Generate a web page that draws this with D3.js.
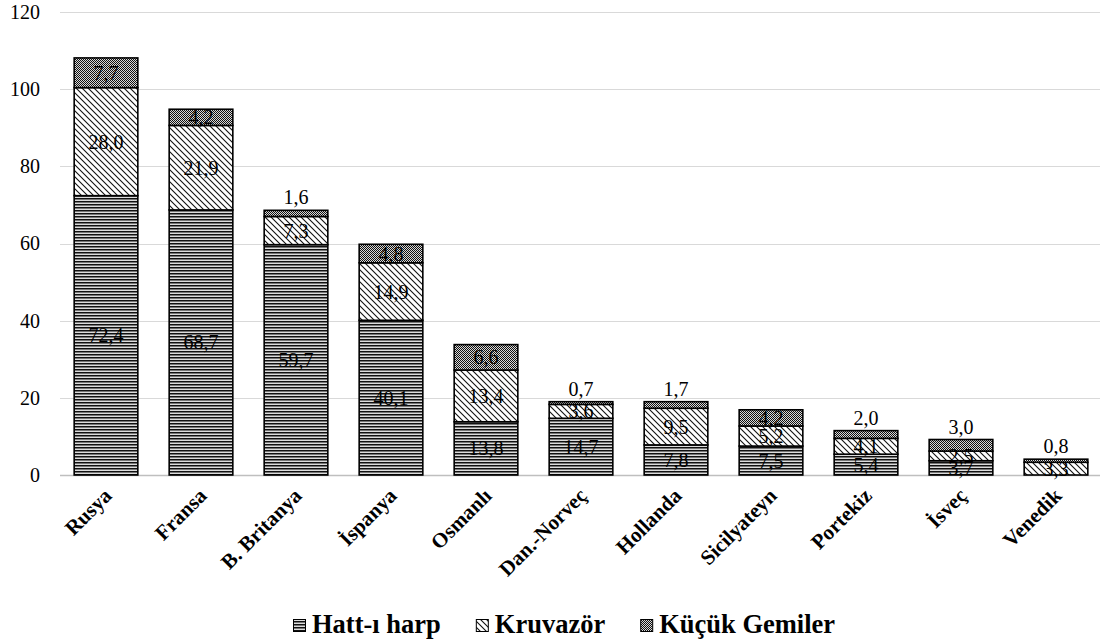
<!DOCTYPE html>
<html>
<head>
<meta charset="utf-8">
<script src="https://cdn.jsdelivr.net/npm/d3@7/dist/d3.min.js"></script>
<style>
  html, body { margin: 0; padding: 0; background: #fff; }
  svg { display: block; }
  svg text { font-family: 'Liberation Serif', 'DejaVu Serif', serif !important; fill: #000; }
</style>
</head>
<body>
<svg id="chart" width="1100" height="643" font-family="Liberation Serif"></svg>
<script>
// Fleet tonnage by country (thousand tons), split by ship class
const categories = ["Rusya", "Fransa", "B. Britanya", "İspanya", "Osmanlı", "Dan.-Norveç",
                    "Hollanda", "Sicilyateyn", "Portekiz", "İsveç", "Venedik"];
const hattiHarp    = [72.4, 68.7, 59.7, 40.1, 13.8, 14.7, 7.8, 7.5, 5.4, 3.7, 0];
const kruvazor     = [28.0, 21.9, 7.3, 14.9, 13.4, 3.6, 9.5, 5.2, 4.1, 2.5, 3.3];
const kucukGemiler = [7.7, 4.2, 1.6, 4.8, 6.6, 0.7, 1.7, 4.2, 2.0, 3.0, 0.8];
const seriesNames  = ["Hatt-ı harp", "Kruvazör", "Küçük Gemiler"];
const yTicks       = [0, 20, 40, 60, 80, 100, 120];

const FONT = "'Liberation Serif', 'DejaVu Serif', serif";
const svg = d3.select("#chart");
const defs = svg.append("defs");

// Fill patterns: horizontal lines, diagonal hatch, fine checker
const pH = defs.append("pattern").attr("id", "pat-hatt")
  .attr("patternUnits", "userSpaceOnUse").attr("width", 6).attr("height", 3);
pH.append("rect").attr("width", 6).attr("height", 3).attr("fill", "#dcdcdc");
pH.append("rect").attr("width", 6).attr("height", 1.5).attr("fill", "#111");

const pK = defs.append("pattern").attr("id", "pat-kruv")
  .attr("patternUnits", "userSpaceOnUse").attr("width", 6).attr("height", 6);
pK.append("rect").attr("width", 6).attr("height", 6).attr("fill", "#fff");
pK.append("path").attr("d", "M-1,-1 L7,7 M-1,5 L1,7 M5,-1 L7,1")
  .attr("stroke", "#111").attr("stroke-width", 1.1);

const pC = defs.append("pattern").attr("id", "pat-kucuk")
  .attr("patternUnits", "userSpaceOnUse").attr("width", 2).attr("height", 2);
pC.append("rect").attr("width", 2).attr("height", 2).attr("fill", "#d8d8d8");
pC.append("rect").attr("width", 1).attr("height", 1).attr("fill", "#111");
pC.append("rect").attr("x", 1).attr("y", 1).attr("width", 1).attr("height", 1).attr("fill", "#111");

const fills = ["url(#pat-hatt)", "url(#pat-kruv)", "url(#pat-kucuk)"];

const x = d3.scaleBand().domain(categories).range([58.5, 1103.5])
  .paddingInner(0.33).paddingOuter(0.165);
const y = d3.scaleLinear().domain([0, 120]).range([475, 12]);

const fmt = v => d3.format(".1f")(v).replace(".", ",");

// Gridlines
svg.append("g").selectAll("line").data(yTicks).join("line")
  .attr("x1", 60).attr("x2", 1100)
  .attr("y1", d => Math.round(y(d)) + 0.5).attr("y2", d => Math.round(y(d)) + 0.5)
  .attr("stroke", d => d === 0 ? "#bfbfbf" : "#d9d9d9")
  .attr("stroke-width", d => d === 0 ? 1.5 : 1);

// Y axis tick labels
const yAxis = svg.append("g").attr("transform", "translate(40,0)")
  .call(d3.axisLeft(y).tickValues(yTicks).tickSize(0).tickPadding(0));
yAxis.attr("font-family", FONT).attr("font-size", 20);
yAxis.select(".domain").remove();
yAxis.selectAll("text").attr("fill", "#000");

// Stacked data
const rows = categories.map((c, i) => ({
  cat: c, "Hatt-ı harp": hattiHarp[i], "Kruvazör": kruvazor[i], "Küçük Gemiler": kucukGemiler[i]
}));
const stacked = d3.stack().keys(seriesNames)(rows);

const gBars = svg.append("g");
stacked.forEach((layer, li) => {
  gBars.append("g").selectAll("rect").data(layer.filter(d => d[1] - d[0] > 0)).join("rect")
    .attr("x", d => x(d.data.cat))
    .attr("width", x.bandwidth())
    .attr("y", d => y(d[1]))
    .attr("height", d => y(d[0]) - y(d[1]))
    .attr("fill", fills[li])
    .attr("stroke", "#000")
    .attr("stroke-width", 1.6);
});

// Value labels: centred in segments, small top segments written above the bar
const gLabels = svg.append("g").attr("font-family", FONT).attr("font-size", 20);
stacked.forEach((layer, li) => {
  layer.forEach(d => {
    const v = d[1] - d[0];
    if (v <= 0) return;
    const cx = x(d.data.cat) + x.bandwidth() / 2;
    const above = li === 2 && v <= 3.0;
    const t = gLabels.append("text")
      .attr("x", cx)
      .attr("text-anchor", "middle")
      .text(fmt(v));
    if (above) {
      t.attr("y", y(d[1]) - 6);
    } else {
      t.attr("y", (y(d[0]) + y(d[1])) / 2).attr("dy", "0.35em");
    }
  });
});

// Category labels, rotated
svg.append("g").attr("font-family", FONT).attr("font-size", 21).attr("font-weight", "bold")
  .selectAll("text").data(categories).join("text")
  .attr("transform", d => `translate(${x(d) + x.bandwidth() / 2 + 7},${497}) rotate(-45)`)
  .attr("text-anchor", "end")
  .text(d => d);

// Legend
const legend = svg.append("g").attr("transform", "translate(293,0)")
  .attr("font-family", FONT).attr("font-size", 26.5).attr("font-weight", "bold");
let lx = 0;
seriesNames.forEach((name, i) => {
  legend.append("rect")
    .attr("x", lx + 0.5).attr("y", 619.5).attr("width", 12).attr("height", 12)
    .attr("fill", fills[i]).attr("stroke", "#000").attr("stroke-width", 1);
  const t = legend.append("text")
    .attr("x", lx + 19).attr("y", 633)
    .text(name);
  lx += 19 + t.node().getComputedTextLength() + 35;
});
</script>
</body>
</html>
